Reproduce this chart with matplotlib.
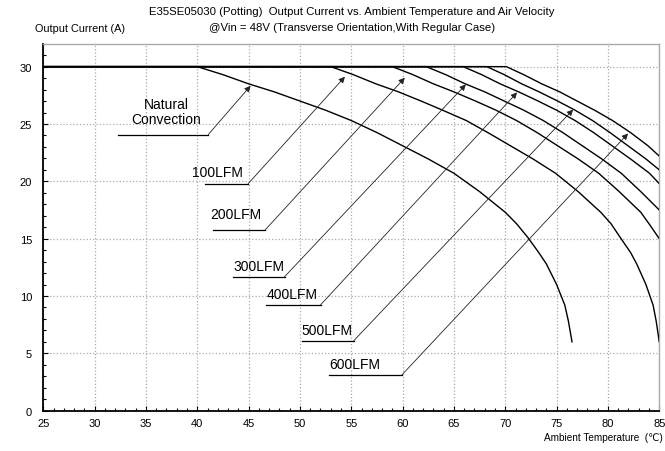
import numpy as np
import matplotlib.pyplot as plt
from matplotlib.ticker import MultipleLocator

plt.rcParams['font.family'] = ['Liberation Sans', 'DejaVu Sans']

# --- derating curves (ambient temp in C, output current in A) ---
t_nat = [25, 40, 42.5, 45.0, 47.5, 50.0, 52.5, 55.0, 57.5, 60.0, 62.5, 65.0, 67.5,
         70.0, 71.1, 72.2, 73.25, 74.0, 75.0, 75.8, 76.15, 76.5]
i_nat = [30, 30, 29.3, 28.5, 27.8, 27.0, 26.2, 25.3, 24.25, 23.1, 21.95, 20.7, 19.1,
         17.3, 16.3, 15.1, 13.8, 12.8, 11.0, 9.2, 7.8, 6.0]

t_100 = [25, 53, 55.2, 57.4, 59.6, 61.8, 63.9, 66.2, 68.3, 70.5, 72.7, 74.9, 77.1,
         79.3, 80.3, 81.2, 82.2, 82.8, 83.7, 84.4, 84.7, 85]
i_100 = [30, 30, 29.3, 28.5, 27.8, 27.0, 26.2, 25.3, 24.25, 23.1, 21.95, 20.7, 19.1,
         17.3, 16.3, 15.1, 13.8, 12.8, 11.0, 9.2, 7.8, 6.0]

t_200 = [25, 59, 61.0, 63.0, 65.0, 67.1, 69.1, 71.1, 73.1, 75.1, 77.1, 79.1, 81.1,
         83.2, 84.0, 85]
i_200 = [30, 30, 29.3, 28.5, 27.8, 27.0, 26.2, 25.3, 24.25, 23.1, 21.95, 20.7, 19.1,
         17.3, 16.3, 15.0]

t_300 = [25, 62.3, 64.2, 66.1, 68.0, 69.9, 71.8, 73.7, 75.6, 77.5, 79.4, 81.3, 83.2, 85]
i_300 = [30, 30, 29.3, 28.5, 27.8, 27.0, 26.2, 25.3, 24.25, 23.1, 21.95, 20.7, 19.1, 17.5]

t_400 = [25, 65.9, 67.7, 69.5, 71.3, 73.2, 75.0, 76.8, 78.6, 80.4, 82.2, 84.05, 85]
i_400 = [30, 30, 29.3, 28.5, 27.8, 27.0, 26.2, 25.3, 24.25, 23.1, 21.95, 20.7, 19.8]

t_500 = [25, 68.2, 69.9, 71.6, 73.3, 75.1, 76.8, 78.5, 80.2, 81.95, 83.7, 85]
i_500 = [30, 30, 29.3, 28.5, 27.8, 27.0, 26.2, 25.3, 24.25, 23.1, 21.95, 21.0]

t_600 = [25, 70.1, 71.8, 73.55, 75.3, 77.0, 78.7, 80.45, 82.2, 83.9, 85]
i_600 = [30, 30, 29.3, 28.5, 27.8, 27.0, 26.2, 25.3, 24.25, 23.1, 22.2]

curves = [(t_nat, i_nat), (t_100, i_100), (t_200, i_200), (t_300, i_300),
          (t_400, i_400), (t_500, i_500), (t_600, i_600)]

labels = ['Natural\nConvection', '100LFM', '200LFM', '300LFM', '400LFM', '500LFM', '600LFM']

# label layout: text centre, underline x-range and y, arrow tip
text_xy  = [(37.0, 26.1), (42.0, 20.8), (43.8, 17.15), (46.0, 12.6),
            (49.2, 10.15), (52.6, 7.0), (55.35, 4.03)]
under_x  = [(32.3, 41.07), (40.74, 44.96), (41.49, 46.59), (43.47, 48.5),
            (46.68, 52.01), (50.16, 55.25), (52.82, 59.93)]
under_y  = [24.08, 19.8, 15.74, 11.68, 9.23, 6.11, 3.12]
tips     = [(45.19, 28.33), (54.38, 29.12), (60.21, 29.03), (66.16, 28.45),
            (71.15, 27.75), (76.61, 26.26), (81.96, 24.17)]

fig = plt.figure(figsize=(6.65, 4.52), dpi=100)
ax = fig.add_axes([0.0651, 0.0892, 0.9263, 0.8119])

for t, i in curves:
    ax.plot(t, i, color='black', lw=1.0, zorder=3)

for k, lab in enumerate(labels):
    tx, ty = text_xy[k]
    ax.text(tx, ty, lab, ha='center', va='center', fontsize=10, linespacing=1.05)
    x0, x1 = under_x[k]
    ax.plot([x0, x1], [under_y[k], under_y[k]], color='black', lw=0.9)
    ax.annotate('', xy=tips[k], xytext=(x1, under_y[k]),
                arrowprops=dict(arrowstyle='-|>', color='#222222', lw=0.6,
                                mutation_scale=9, shrinkA=0, shrinkB=0))

ax.set_xlim(25, 85)
ax.set_ylim(0, 32)
ax.xaxis.set_major_locator(MultipleLocator(5))
ax.xaxis.set_minor_locator(MultipleLocator(1))
ax.yaxis.set_major_locator(MultipleLocator(5))
ax.yaxis.set_minor_locator(MultipleLocator(1))
ax.tick_params(which='both', direction='in', labelsize=8, width=0.8)
ax.tick_params(which='major', length=3.5)
ax.tick_params(which='minor', length=2.5)
ax.tick_params(axis='x', pad=5)
ax.tick_params(axis='y', pad=8)
ax.grid(True, which='major', color='#aaaaaa', ls=':', lw=0.9)

for s in ['left', 'bottom']:
    ax.spines[s].set_linewidth(1.3)
for s in ['top', 'right']:
    ax.spines[s].set_color('#aaaaaa')
    ax.spines[s].set_linewidth(1.0)

fig.text(0.529, 0.973, 'E35SE05030 (Potting)  Output Current vs. Ambient Temperature and Air Velocity',
         ha='center', va='center', fontsize=8.2)
fig.text(0.529, 0.938, '@Vin = 48V (Transverse Orientation,With Regular Case)',
         ha='center', va='center', fontsize=8.2)
fig.text(0.120, 0.935, 'Output Current (A)', ha='center', va='center', fontsize=7.8)
fig.text(0.996, 0.031, 'Ambient Temperature  (\u2103)', ha='right', va='center', fontsize=7.2)

plt.savefig('out.png', dpi=100)
